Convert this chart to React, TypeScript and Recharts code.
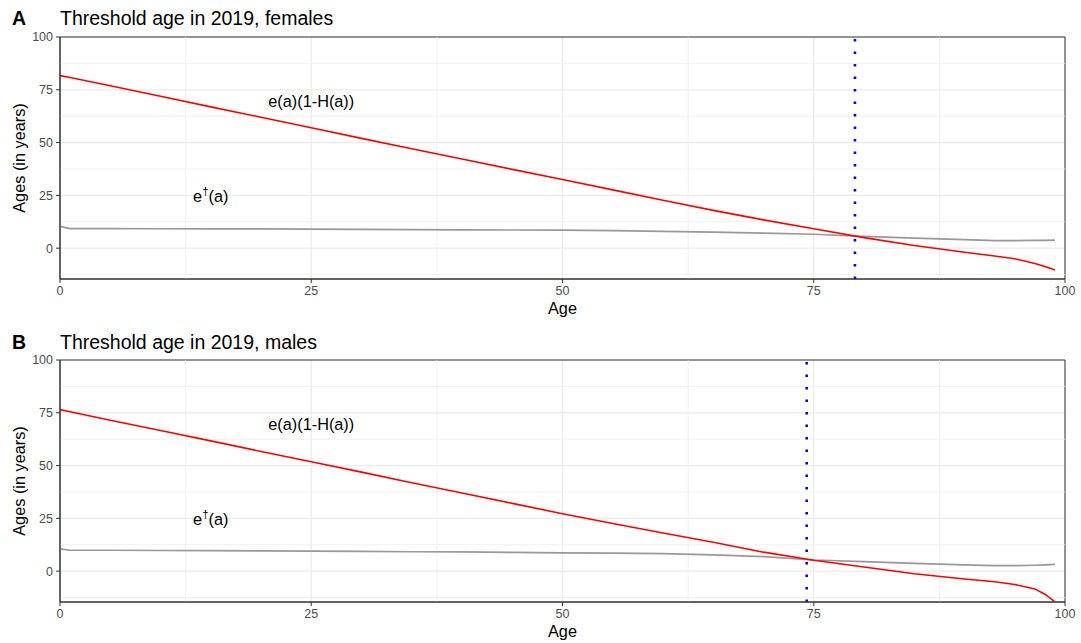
import React from 'react';
import {
  LineChart,
  Line,
  XAxis,
  YAxis,
  CartesianGrid,
  ReferenceLine,
  ReferenceArea,
  ReferenceDot,
} from 'recharts';

// ---------- data ----------
const ages = [0, 1, 5, 10, 15, 20, 25, 30, 35, 40, 45, 50, 55, 60, 65, 70, 75, 80, 85, 90, 93, 95, 97, 98, 99];

// e(a)(1-H(a)), females
const femaleThreshold = [81.7, 80.8, 76.9, 71.9, 66.9, 62.0, 57.0, 52.0, 47.1, 42.2, 37.3, 32.5, 27.6, 22.7, 17.9, 13.4, 9.2, 5.0, 1.3, -1.9, -3.7, -5.0, -7.3, -8.7, -10.3];
// e-dagger(a), females
const femaleEdagger = [10.3, 9.3, 9.3, 9.2, 9.1, 9.1, 9.0, 8.9, 8.8, 8.7, 8.6, 8.5, 8.3, 8.0, 7.6, 7.1, 6.6, 5.6, 4.8, 4.0, 3.6, 3.6, 3.7, 3.7, 3.8];

// e(a)(1-H(a)), males
const maleThreshold = [76.5, 75.5, 71.5, 66.6, 61.7, 56.7, 51.8, 46.9, 41.9, 37.0, 32.1, 27.2, 22.6, 18.1, 13.7, 9.0, 5.2, 2.0, -1.2, -3.7, -5.0, -6.3, -8.4, -10.9, -14.5];
// e-dagger(a), males
const maleEdagger = [10.6, 9.9, 9.9, 9.8, 9.7, 9.6, 9.5, 9.4, 9.2, 9.1, 8.9, 8.7, 8.5, 8.3, 7.7, 6.9, 5.3, 4.5, 3.7, 3.0, 2.6, 2.6, 2.8, 3.0, 3.2];

const femaleCrossAge = 79.1;
const maleCrossAge = 74.3;

const xTicks = [0, 25, 50, 75, 100];
const yTicks = [0, 25, 50, 75, 100];
const xMinor = [12.5, 37.5, 62.5, 87.5];
const yMinor = [-12.5, 12.5, 37.5, 62.5, 87.5];
const xDomain = [0, 100];
const yDomain = [-14.6, 100];

const panelTags = ['A', 'B'];
const panelTitles = ['Threshold age in 2019, females', 'Threshold age in 2019, males'];
const mainLabel = 'e(a)(1-H(a))';
const mainLabelAt = { age: 25, value: 70 };
const daggerLabelAt = { age: 15, value: 25 };

// ---------- style ----------
const FONT = '"Liberation Sans", Arial, Helvetica, sans-serif';
const W = 1081;

const build = (thr: number[], ed: number[]) =>
  ages.map((a, i) => ({ age: a, threshold: thr[i], edagger: ed[i] }));

const femaleData = build(femaleThreshold, femaleEdagger);
const maleData = build(maleThreshold, maleEdagger);

const MainLabel = (props: any) => {
  const vb = props.viewBox || {};
  const cx = (vb.x ?? 0) + (vb.width ?? 0) / 2;
  const cy = (vb.y ?? 0) + (vb.height ?? 0) / 2;
  return (
    <text x={cx} y={cy + 6.5} textAnchor="middle" fontSize={16.3} fill="#000" fontFamily={FONT}>
      {mainLabel}
    </text>
  );
};

const DaggerLabel = (props: any) => {
  const vb = props.viewBox || {};
  const cx = (vb.x ?? 0) + (vb.width ?? 0) / 2;
  const cy = (vb.y ?? 0) + (vb.height ?? 0) / 2;
  return (
    <text x={cx} y={cy + 6.5} textAnchor="middle" fontSize={16.3} fill="#000" fontFamily={FONT}>
      <tspan>e</tspan>
      <tspan dy={-7} fontSize={11.5}>†</tspan>
      <tspan dy={7}>(a)</tspan>
    </text>
  );
};

type PanelProps = {
  data: any[];
  cross: number;
  height: number;
  top: number;
  xAxisHeight: number;
};

const Panel = ({ data, cross, height, top, xAxisHeight }: PanelProps) => (
  <LineChart
    width={W}
    height={height}
    data={data}
    margin={{ top, right: 16, bottom: 0, left: 0 }}
    style={{ fontFamily: FONT }}
  >
    <CartesianGrid stroke="#ebebeb" strokeWidth={1.2} />
    {yMinor.map((v) => (
      <ReferenceLine key={'hy' + v} y={v} stroke="#ededed" strokeWidth={0.8} />
    ))}
    {xMinor.map((v) => (
      <ReferenceLine key={'vx' + v} x={v} stroke="#ededed" strokeWidth={0.8} />
    ))}
    <XAxis
      dataKey="age"
      type="number"
      domain={xDomain}
      ticks={xTicks}
      allowDataOverflow
      height={xAxisHeight}
      tickSize={4}
      tickMargin={3}
      stroke="#333"
      tick={{ fill: '#4d4d4d', fontSize: 12.5, fontFamily: FONT }}
      tickLine={{ stroke: '#333' }}
      label={{ value: 'Age', position: 'insideBottom', offset: xAxisHeight - 35, fill: '#000', fontSize: 16.3, fontFamily: FONT }}
    />
    <YAxis
      type="number"
      domain={yDomain}
      ticks={yTicks}
      allowDataOverflow
      width={60}
      tickSize={4}
      tickMargin={3}
      stroke="#333"
      tick={{ fill: '#4d4d4d', fontSize: 12.5, fontFamily: FONT }}
      tickLine={{ stroke: '#333' }}
      label={{ value: 'Ages (in years)', angle: -90, position: 'insideLeft', offset: 19, style: { textAnchor: 'middle' }, fill: '#000', fontSize: 16.3, fontFamily: FONT }}
    />
    <ReferenceArea x1={xDomain[0]} x2={xDomain[1]} y1={yDomain[0]} y2={yDomain[1]} fill="none" stroke="#333" strokeWidth={1} />
    <Line dataKey="edagger" type="linear" stroke="#999999" strokeWidth={1.7} dot={false} isAnimationActive={false} />
    <Line dataKey="threshold" type="linear" stroke="#ff0000" strokeWidth={1.6} dot={false} isAnimationActive={false} />
    <ReferenceLine x={cross} stroke="#0000ff" strokeWidth={2.6} strokeDasharray="2.6 9.9" />
    <ReferenceDot x={mainLabelAt.age} y={mainLabelAt.value} r={0} fill="none" stroke="none" label={<MainLabel />} />
    <ReferenceDot x={daggerLabelAt.age} y={daggerLabelAt.value} r={0} fill="none" stroke="none" label={<DaggerLabel />} />
  </LineChart>
);

export default function App() {
  return (
    <div style={{ position: 'absolute', left: 0, top: 0, width: W, height: 643, background: '#fff', fontFamily: FONT }}>
      <div style={{ position: 'absolute', left: 0, top: 0 }}>
        <Panel data={femaleData} cross={femaleCrossAge} height={322} top={37} xAxisHeight={43} />
      </div>
      <div style={{ position: 'absolute', left: 0, top: 322 }}>
        <Panel data={maleData} cross={maleCrossAge} height={321} top={38} xAxisHeight={41} />
      </div>
      <svg width={W} height={643} style={{ position: 'absolute', left: 0, top: 0, pointerEvents: 'none' }}>
        <text x={12} y={25} fontSize={19.5} fontWeight="bold" fontFamily={FONT} fill="#000">{panelTags[0]}</text>
        <text x={60} y={25} fontSize={19.5} fontFamily={FONT} fill="#000">{panelTitles[0]}</text>
        <text x={12} y={349} fontSize={19.5} fontWeight="bold" fontFamily={FONT} fill="#000">{panelTags[1]}</text>
        <text x={60} y={349} fontSize={19.5} fontFamily={FONT} fill="#000">{panelTitles[1]}</text>
      </svg>
    </div>
  );
}
